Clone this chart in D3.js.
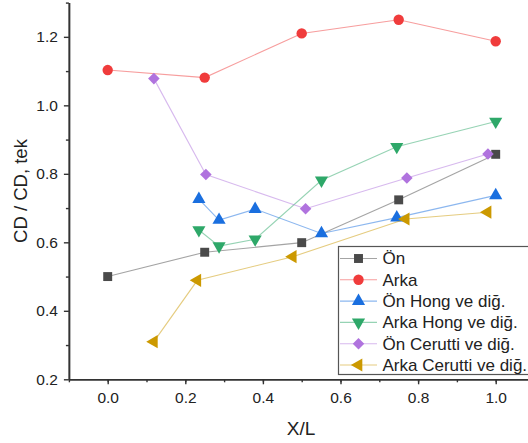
<!DOCTYPE html>
<html>
<head>
<meta charset="utf-8">
<script src="https://cdn.jsdelivr.net/npm/d3@7"></script>
<style>
  body { margin: 0; background: #fff; }
  svg { display: block; font-family: "Liberation Sans", Arial, sans-serif; }
</style>
</head>
<body>
<svg id="chart" width="528" height="443"></svg>
<script>
// values
const onX = [0, 0.25, 0.5, 0.75, 1.0];
const onY = [0.50, 0.571, 0.599, 0.724, 0.857];
const arkaX = [0, 0.25, 0.5, 0.75, 1.0];
const arkaY = [1.103, 1.081, 1.210, 1.250, 1.187];
const onHongX = [0.235, 0.287, 0.38, 0.551, 0.745, 1.0];
const onHongY = [0.726, 0.665, 0.697, 0.626, 0.672, 0.737];
const arkaHongX = [0.235, 0.287, 0.38, 0.551, 0.745, 1.0];
const arkaHongY = [0.636, 0.589, 0.609, 0.781, 0.879, 0.953];
const onCeruttiX = [0.119, 0.253, 0.51, 0.771, 0.98];
const onCeruttiY = [1.078, 0.798, 0.698, 0.788, 0.858];
const arkaCeruttiX = [0.119, 0.231, 0.477, 0.768, 0.979];
const arkaCeruttiY = [0.31, 0.489, 0.558, 0.668, 0.688];

const seriesNames = ['Ön', 'Arka', 'Ön Hong ve diğ.', 'Arka Hong ve diğ.', 'Ön Cerutti ve diğ.', 'Arka Cerutti ve diğ.'];
const xTicks = [0.0, 0.2, 0.4, 0.6, 0.8, 1.0];
const yTicks = [0.2, 0.4, 0.6, 0.8, 1.0, 1.2];

const P = { LEFT: 68.9, RIGHT: 534.5, TOP: 2.6, BOTTOM: 379.3 };

const svg = d3.select('#chart');
const x = d3.scaleLinear().domain([-0.1, 1.1]).range([P.LEFT, P.RIGHT]);
const y = d3.scaleLinear().domain([0.2, 1.3]).range([P.BOTTOM, P.TOP]);

// axes: major ticks with labels, minor ticks without
const axisColor = '#333';
function styleAxis(g) {
  g.select('.domain').attr('stroke', axisColor).attr('stroke-width', 1.6);
  g.selectAll('.tick line').attr('stroke', axisColor).attr('stroke-width', 1.4);
  g.selectAll('.tick text').attr('fill', '#222').style('font-size', '15.5px');
}

const xMinor = d3.range(-0.1, 1.1001, 0.1).map(v => +v.toFixed(2));
const yMinor = d3.range(0.3, 1.3001, 0.2).map(v => +v.toFixed(2));

svg.append('g').attr('transform', `translate(0,${P.BOTTOM})`)
  .call(d3.axisBottom(x).tickValues(xMinor).tickFormat('').tickSize(3).tickSizeOuter(0))
  .call(styleAxis);
svg.append('g').attr('transform', `translate(0,${P.BOTTOM})`)
  .call(d3.axisBottom(x).tickValues(xTicks).tickFormat(d3.format('.1f')).tickSize(5).tickPadding(8).tickSizeOuter(0))
  .call(styleAxis);
svg.append('g').attr('transform', `translate(${P.LEFT},0)`)
  .call(d3.axisLeft(y).tickValues(yMinor).tickFormat('').tickSize(3).tickSizeOuter(0))
  .call(styleAxis);
svg.append('g').attr('transform', `translate(${P.LEFT},0)`)
  .call(d3.axisLeft(y).tickValues(yTicks).tickFormat(d3.format('.1f')).tickSize(5).tickPadding(6).tickSizeOuter(0))
  .call(styleAxis);

svg.append('text')
  .attr('x', 301).attr('y', 435)
  .attr('text-anchor', 'middle')
  .attr('fill', '#222').style('font-size', '19px')
  .text('X/L');
svg.append('text')
  .attr('transform', 'translate(27,191) rotate(-90)')
  .attr('text-anchor', 'middle')
  .attr('fill', '#222').style('font-size', '18.5px')
  .text('CD / CD, tek');

class Serie {
  constructor(name, xs, ys, color, symbol, rotate, size) {
    this.name = name;
    this.points = xs.map((v, i) => ({ x: v, y: ys[i] }));
    this.color = color;
    this.symbol = symbol;
    this.rotate = rotate;
    this.size = size;
  }

  marker(g, cx, cy) {
    g.append('path')
      .attr('d', d3.symbol().type(this.symbol).size(this.size)())
      .attr('transform', `translate(${cx},${cy}) rotate(${this.rotate})`)
      .attr('fill', this.color);
  }

  render(svg) {
    this.group = svg.append('g');
    this.group.append('path')
      .datum(this.points)
      .attr('fill', 'none')
      .attr('stroke', this.color)
      .attr('stroke-opacity', 0.5)
      .attr('stroke-width', 1.1)
      .attr('d', d3.line().x(d => x(d.x)).y(d => y(d.y)));
    this.points.forEach(d => this.marker(this.group, x(d.x), y(d.y)));
  }
}

const series = [
  new Serie(seriesNames[0], onX, onY, '#4a4a4a', d3.symbolSquare, 0, 80),
  new Serie(seriesNames[1], arkaX, arkaY, '#f03c3c', d3.symbolCircle, 0, 85),
  new Serie(seriesNames[2], onHongX, onHongY, '#1a6fdf', d3.symbolTriangle, 0, 75),
  new Serie(seriesNames[3], arkaHongX, arkaHongY, '#2ea869', d3.symbolTriangle, 180, 75),
  new Serie(seriesNames[4], onCeruttiX, onCeruttiY, '#b073de', d3.symbolDiamond2 || d3.symbolSquare, d3.symbolDiamond2 ? 0 : 45, 85),
  new Serie(seriesNames[5], arkaCeruttiX, arkaCeruttiY, '#cc9900', d3.symbolTriangle, -90, 75)
];
series.forEach(s => s.render(svg));

// legend
const legend = svg.append('g');
legend.append('rect')
  .attr('x', 338.5).attr('y', 246.5)
  .attr('width', 200).attr('height', 128)
  .attr('fill', '#fff').attr('stroke', '#555').attr('stroke-width', 1.2);
series.forEach((s, i) => {
  const ry = 258.5 + i * 21.3;
  legend.append('line')
    .attr('x1', 340).attr('x2', 377).attr('y1', ry).attr('y2', ry)
    .attr('stroke', s.color).attr('stroke-opacity', 0.5).attr('stroke-width', 1.1);
  s.marker(legend, 358.5, ry);
  legend.append('text')
    .attr('x', 382.5).attr('y', ry).attr('dy', '0.35em')
    .attr('fill', '#222').style('font-size', '17px')
    .text(s.name);
});
</script>
</body>
</html>
